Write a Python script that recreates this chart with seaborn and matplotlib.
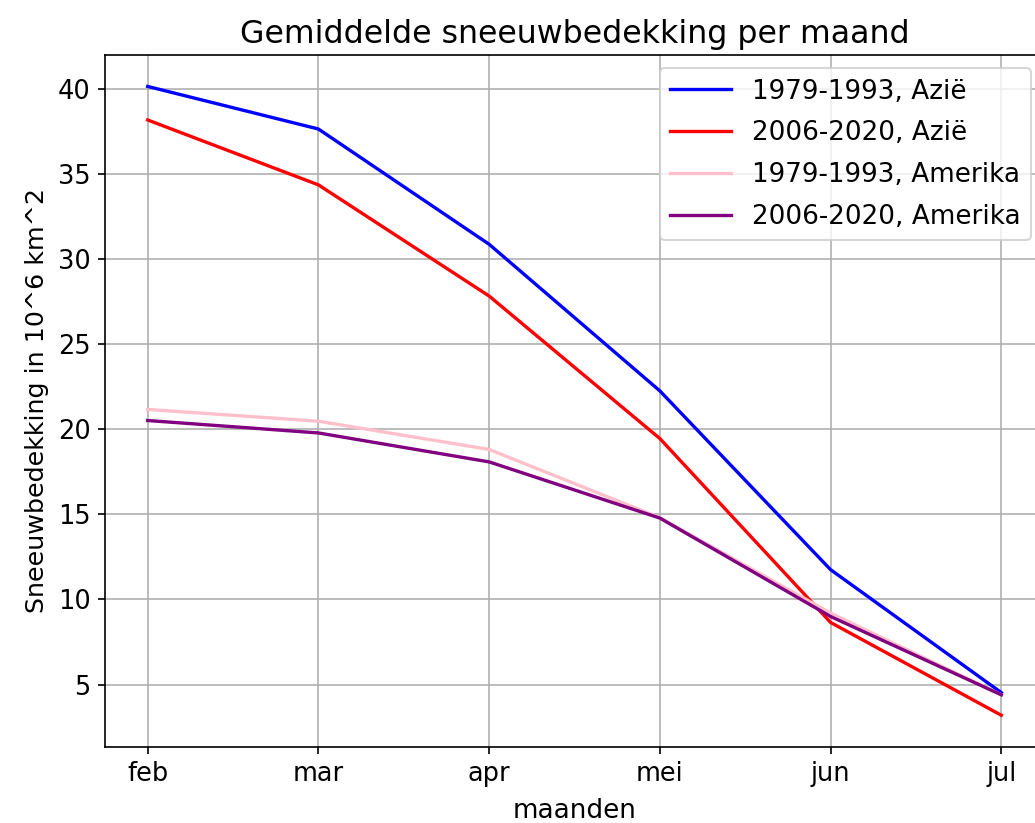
import matplotlib
matplotlib.use("Agg")
import matplotlib.pyplot as plt
import seaborn as sns
import pandas as pd

maanden = ["feb", "mar", "apr", "mei", "jun", "jul"]
azie_1979 = [40.13, 37.63, 30.86, 22.25, 11.75, 4.53]
azie_2006 = [38.16, 34.35, 27.82, 19.45, 8.65, 3.2]
amerika_1979 = [21.16, 20.47, 18.81, 14.8, 9.2, 4.4]
amerika_2006 = [20.51, 19.78, 18.08, 14.78, 9.0, 4.4]

labels = ["1979-1993, Azië", "2006-2020, Azië", "1979-1993, Amerika", "2006-2020, Amerika"]
colors = ["blue", "red", "pink", "purple"]
series = [azie_1979, azie_2006, amerika_1979, amerika_2006]

fig = plt.figure(figsize=(6.9, 823 / 150), dpi=150)
ax = fig.add_axes([105 / 1035, 1 - 746.7 / 823, (1044 - 105) / 1035, (746.7 - 55) / 823])

for vals, lab, col in zip(series, labels, colors):
    df = pd.DataFrame({"maand": maanden, "waarde": vals})
    sns.lineplot(data=df, x="maand", y="waarde", color=col, label=lab, ax=ax,
                 sort=False, linewidth=1.6)

ax.grid(True)
ax.set_title("Gemiddelde sneeuwbedekking per maand", fontsize=15.2)
ax.set_xlabel("maanden", fontsize=12.6, labelpad=5)
ax.set_ylabel("Sneeuwbedekking in 10^6 km^2", fontsize=12.2)
ax.tick_params(labelsize=12.3)
ax.legend(loc="upper right", fontsize=12.6, labelspacing=0.6, handlelength=2.3)
fig.savefig("out.png", dpi=150)
